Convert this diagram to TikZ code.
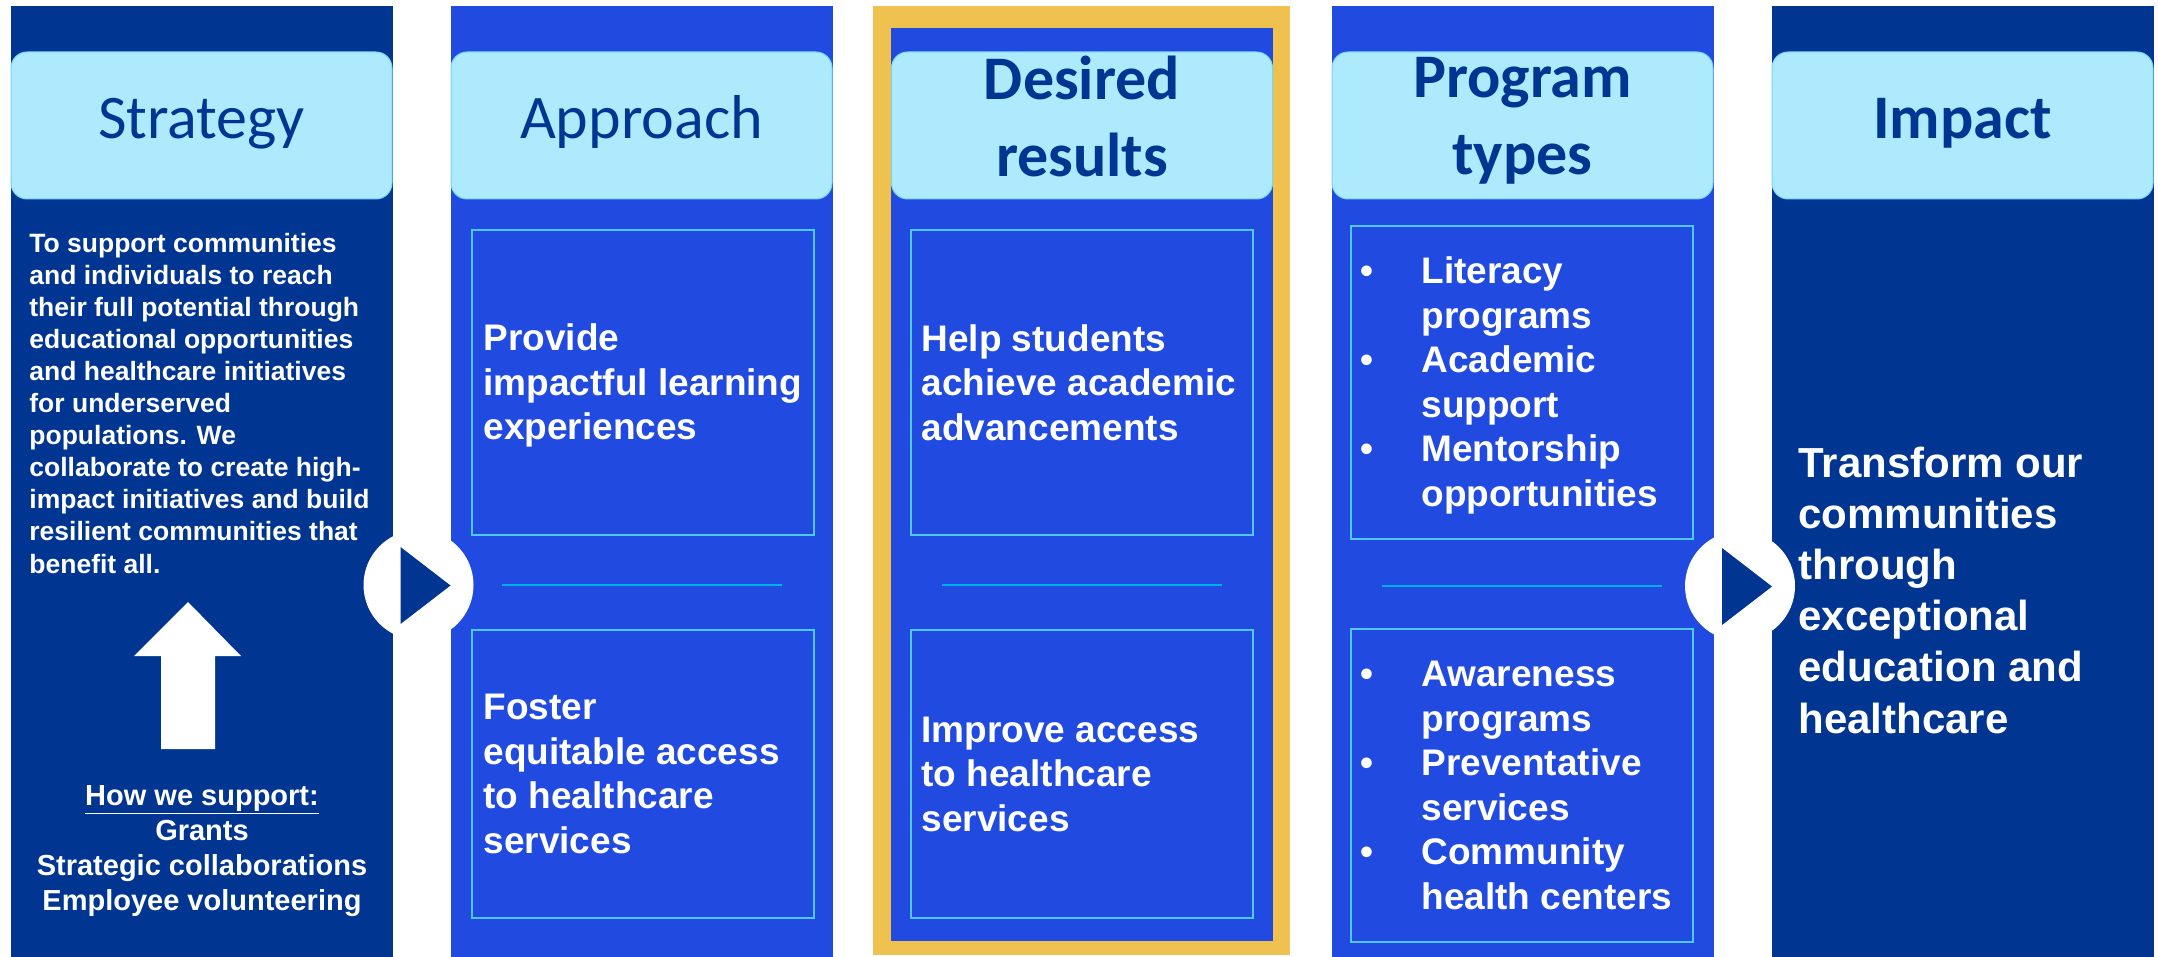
\documentclass[tikz,border=0pt]{standalone}
\usepackage{fontspec}
\usepackage{tikz}
\usetikzlibrary{positioning}
\setmainfont{Liberation Sans}
\newfontfamily\headfont{Carlito}

\definecolor{navy}{RGB}{0,53,145}
\definecolor{royal}{RGB}{33,74,225}
\definecolor{sky}{RGB}{173,234,253}
\definecolor{gold}{RGB}{239,194,79}
\definecolor{boxline}{RGB}{80,200,245}
\definecolor{splitline}{RGB}{0,176,240}

% strut that keeps one- and two-line titles at the same height
\newcommand{\headstrut}{\rule[-9.25pt]{0pt}{31.25pt}}
% bullet entry over two lines
\newcommand{\progitem}[2]{\makebox[30.5pt][l]{\textbullet}#1\\\hspace*{30.5pt}#2}

\begin{document}
\begin{tikzpicture}[x=0.5pt, y=-0.5pt,
	head/.style={rectangle, rounded corners=8pt, fill=sky, draw=boxline!60!sky, line width=0.5pt, minimum width=190.5pt, minimum height=73.5pt, inner sep=0pt, text=navy, align=center, font=\headfont\fontsize{31pt}{38.5pt}\selectfont, execute at begin node=\headstrut, execute at end node=\headstrut},
	goalbox/.style={rectangle, draw=boxline, line width=0.85pt, minimum width=171pt, inner sep=0pt},
	boxtxt/.style={inner sep=0pt, text=white, align=left, font=\bfseries\fontsize{18.5pt}{22.25pt}\selectfont},
	plaintxt/.style={inner sep=0pt, text=white, align=left},
	playbtn/.style={circle, fill=white, minimum size=55pt, inner sep=0pt},
	split/.style={draw=splitline, line width=1.25pt}]
	\useasboundingbox (0,0) rectangle (2158,957);
	\fill[white] (0,0) rectangle (2158,957);
	
	% columns
	\fill[navy] (11,6) rectangle (393,957);
	\fill[royal] (451,6) rectangle (833,957);
	\fill[gold] (873,6) rectangle (1290,955);
	\fill[royal] (891,28) rectangle (1273,941);
	\fill[royal] (1332,6) rectangle (1714,957);
	\fill[navy] (1772,6) rectangle (2154,957);
	
	% titles
	\node[head] (hs) at (201.5,125.5) {Strategy};
	\node[head] (ha) at (641.5,125.5) {Approach};
	\node[head] (hd) at (1082,125.5) {\bfseries Desired\\\bfseries results};
	\node[head] (hp) at (1522.5,125.5) {\bfseries Program\\\bfseries types};
	\node[head] (hi) at (1962.5,125.5) {\bfseries Impact};
	
	% strategy column (base = last line)
	\node[plaintxt, anchor=base west, font=\bfseries\fontsize{13.25pt}{16.05pt}\selectfont] (mission) at (29,573)
		{To support communities\\and individuals to reach\\their full potential through\\educational opportunities\\and healthcare initiatives\\for underserved\\populations. We\\collaborate to create high-\\impact initiatives and build\\resilient communities that\\benefit all.};
	\fill[white] (188,602) -- (241,656) -- (215,656) -- (215,749) -- (161,749) -- (161,656) -- (134,656) -- cycle;
	\node[plaintxt, align=center, anchor=base, font=\bfseries\fontsize{14.5pt}{17.5pt}\selectfont] (support) at (202,910)
		{\underline{How we support:}\\Grants\\Strategic collaborations\\Employee volunteering};
	
	% approach column
	\node[goalbox, minimum height=152.5pt] (b1) at (643,382.5) {};
	\node[goalbox, minimum height=144pt] (b2) at (643,774) {};
	\node[boxtxt, right=6pt of b1.west, yshift=-1.5pt] (t1) {Provide\\impactful learning\\experiences};
	\node[boxtxt, right=6pt of b2.west] (t2) {Foster\\equitable access\\to healthcare\\services};
	\draw[split] (502,585) -- (782,585);
	
	% desired results column
	\node[goalbox, minimum height=152.5pt] (b3) at (1082,382.5) {};
	\node[goalbox, minimum height=144pt] (b4) at (1082,774) {};
	\node[boxtxt, right=5.5pt of b3.west] (t3) {Help students\\achieve academic\\advancements};
	\node[boxtxt, right=5.5pt of b4.west] (t4) {Improve access\\to healthcare\\services};
	\draw[split] (942,585) -- (1222,585);
	
	% program types column
	\node[goalbox, minimum height=156.5pt] (b5) at (1522,382.5) {};
	\node[goalbox, minimum height=156.5pt] (b6) at (1522,785.5) {};
	\node[boxtxt, right=5pt of b5.west, yshift=-1.5pt] (t5) {\progitem{Literacy}{programs}\\\progitem{Academic}{support}\\\progitem{Mentorship}{opportunities}};
	\node[boxtxt, right=5pt of b6.west] (t6) {\progitem{Awareness}{programs}\\\progitem{Preventative}{services}\\\progitem{Community}{health centers}};
	\draw[split] (1382,586) -- (1662,586);
	
	% impact column (base = last line)
	\node[plaintxt, anchor=base west, font=\bfseries\fontsize{21pt}{25.6pt}\selectfont] (goal) at (1798,733)
		{Transform our\\communities\\through\\exceptional\\education and\\healthcare};
	
	% play buttons between columns
	\node[playbtn] (p1) at (418.5,585) {};
	\fill[navy] (p1) ++(-18,-38) -- ++(0,77) -- ++(50,-38.5) -- cycle;
	\node[playbtn] (p2) at (1740,586) {};
	\fill[navy] (p2) ++(-18,-38) -- ++(0,77) -- ++(50,-38.5) -- cycle;
\end{tikzpicture}
\end{document}
